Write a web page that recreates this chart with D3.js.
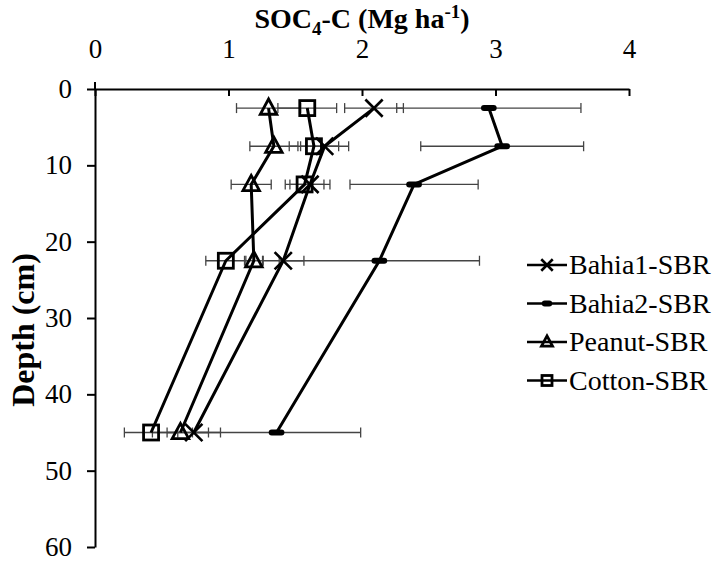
<!DOCTYPE html>
<html>
<head>
<meta charset="utf-8">
<script src="https://cdn.jsdelivr.net/npm/d3@7"></script>
<style>
  body { margin: 0; background: #fff; }
  .axis path, .axis line { stroke: #000; stroke-width: 2; }
</style>
</head>
<body>
<svg width="716" height="561"></svg>
<script>
// depth of each sampling layer (cm)
var depths = [2.5, 7.5, 12.5, 22.5, 45];

var xTicks = [0, 1, 2, 3, 4];
var yTicks = [0, 10, 20, 30, 40, 50, 60];

var seriesNames = ["Bahia1-SBR", "Bahia2-SBR", "Peanut-SBR", "Cotton-SBR"];
var markerTypes = ["cross", "dash", "triangle", "square"];

var bahia1 = [2.09, 1.72, 1.61, 1.41, 0.74];
var bahia1Err = [0.22, 0.18, 0.15, 0.155, 0.2];
var bahia2 = [2.95, 3.05, 2.39, 2.13, 1.36];
var bahia2Err = [0.69, 0.61, 0.48, 0.75, 0.63];
var peanut = [1.30, 1.34, 1.17, 1.19, 0.64];
var peanutErr = [0.24, 0.18, 0.15, 0.07, 0.21];
var cotton = [1.59, 1.64, 1.57, 0.98, 0.42];
var cottonErr = [0.22, 0.185, 0.145, 0.15, 0.2];

var values = [bahia1, bahia2, peanut, cotton];
var errors = [bahia1Err, bahia2Err, peanutErr, cottonErr];

var serif = "'Liberation Serif', 'Times New Roman', serif";

var svg = d3.select("svg");

var x = d3.scaleLinear().domain([0, 4]).range([95, 629]);
var y = d3.scaleLinear().domain([0, 60]).range([89, 547]);

// axes
var xAxis = svg.append("g")
    .attr("class", "axis")
    .attr("transform", "translate(0," + y(0) + ")")
    .call(d3.axisTop(x).tickValues(xTicks).tickSizeInner(-7).tickSizeOuter(0).tickPadding(31).tickFormat(d3.format("d")));

var yAxis = svg.append("g")
    .attr("class", "axis")
    .attr("transform", "translate(" + x(0) + ",0)")
    .call(d3.axisLeft(y).tickValues(yTicks).tickSizeInner(8).tickSizeOuter(0).tickPadding(15).tickFormat(d3.format("d")));

[xAxis, yAxis].forEach(function (a) {
    a.attr("font-family", serif).attr("font-size", 27);
    a.selectAll("text").attr("fill", "#000");
});

// small stub of the depth axis above the top axis
svg.append("line")
    .attr("x1", x(0)).attr("x2", x(0)).attr("y1", y(0) - 7).attr("y2", y(0))
    .attr("stroke", "#000").attr("stroke-width", 2);

// titles
var xt = svg.append("text")
    .attr("x", 362).attr("y", 28)
    .attr("text-anchor", "middle")
    .style("font-family", serif)
    .style("font-size", "28px").style("font-weight", "bold");
xt.append("tspan").text("SOC");
xt.append("tspan").attr("dy", 7).style("font-size", "19px").text("4");
xt.append("tspan").attr("dy", -7).text("-C (Mg ha");
xt.append("tspan").attr("dy", -10).style("font-size", "19px").text("-1");
xt.append("tspan").attr("dy", 10).text(")");

svg.append("text")
    .attr("transform", "translate(34,330) rotate(-90)")
    .attr("text-anchor", "middle")
    .style("font-family", serif)
    .style("font-size", "32px").style("font-weight", "bold")
    .text("Depth (cm)");

function drawMarker(g, type, s) {
    if (type === "cross") {
        var c = s * 1.15;
        g.append("path").attr("d", "M" + (-c) + "," + (-c) + "L" + c + "," + c + "M" + (-c) + "," + c + "L" + c + "," + (-c))
            .attr("stroke", "#000").attr("stroke-width", 2.6).attr("fill", "none");
    } else if (type === "dash") {
        g.append("rect").attr("x", -s * 1.05).attr("y", -3).attr("width", s * 2.1).attr("height", 6).attr("rx", 3)
            .attr("fill", "#000");
    } else if (type === "triangle") {
        var t = s * 1.1;
        g.append("path").attr("d", "M0," + (-t * 1.1) + "L" + t + "," + (t * 0.75) + "L" + (-t) + "," + (t * 0.75) + "Z")
            .attr("stroke", "#000").attr("stroke-width", 2.8).attr("fill", "none");
    } else {
        g.append("rect").attr("x", -s).attr("y", -s).attr("width", 2 * s).attr("height", 2 * s)
            .attr("stroke", "#000").attr("stroke-width", 2.8).attr("fill", "none");
    }
}

var line = d3.line()
    .x(function (d) { return x(d.v); })
    .y(function (d) { return y(d.depth); });

// error bars first
values.forEach(function (vals, i) {
    var pts = vals.map(function (v, j) { return { v: v, e: errors[i][j], depth: depths[j] }; });
    var eb = svg.append("g").attr("stroke", "#444").attr("stroke-width", 1.3);
    pts.forEach(function (p) {
        eb.append("line").attr("x1", x(p.v - p.e)).attr("x2", x(p.v + p.e)).attr("y1", y(p.depth)).attr("y2", y(p.depth));
        [p.v - p.e, p.v + p.e].forEach(function (c) {
            eb.append("line").attr("x1", x(c)).attr("x2", x(c)).attr("y1", y(p.depth) - 5).attr("y2", y(p.depth) + 5);
        });
    });
});

// lines and markers
values.forEach(function (vals, i) {
    var pts = vals.map(function (v, j) { return { v: v, depth: depths[j] }; });
    svg.append("path").datum(pts)
        .attr("d", line)
        .attr("fill", "none").attr("stroke", "#000").attr("stroke-width", 3);
    pts.forEach(function (p) {
        var g = svg.append("g").attr("transform", "translate(" + x(p.v) + "," + y(p.depth) + ")");
        drawMarker(g, markerTypes[i], 7.5);
    });
});

// legend
var legend = svg.append("g").attr("transform", "translate(527,265)");
seriesNames.forEach(function (name, i) {
    var row = legend.append("g").attr("transform", "translate(0," + (i * 38.5) + ")");
    row.append("line").attr("x1", 0).attr("x2", 40).attr("stroke", "#000").attr("stroke-width", 2.5);
    var m = row.append("g").attr("transform", "translate(20,0)");
    drawMarker(m, markerTypes[i], 5);
    row.append("text").attr("x", 42).attr("y", 9)
        .style("font-family", serif)
        .style("font-size", "28px").text(name);
});
</script>
</body>
</html>
